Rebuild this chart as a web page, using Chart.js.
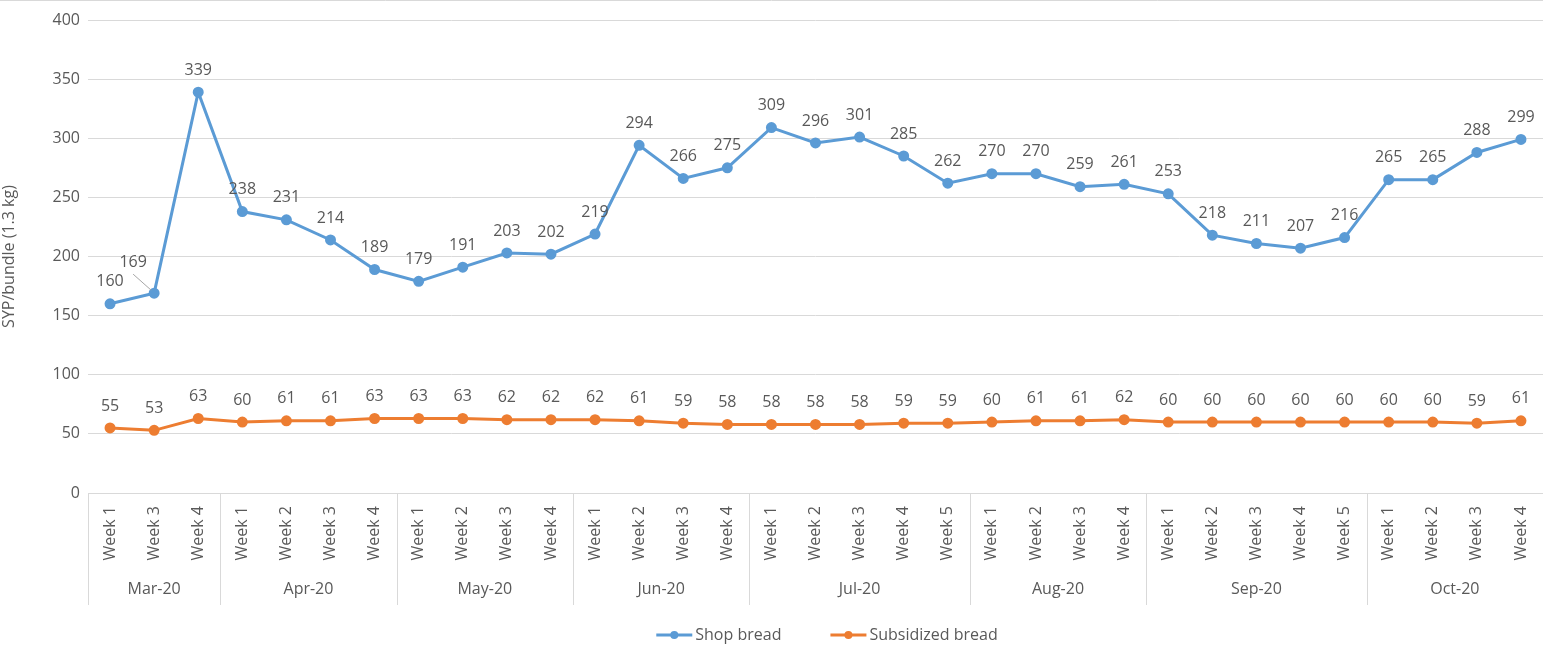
<!DOCTYPE html>
<html>
<head>
  <title>Shop bread vs subsidized bread</title>
  <style>
    body { margin: 0; padding: 0; background: #fff; }
    #wrap { width: 1543px; height: 652px; }
  </style>
</head>
<body>
<div id="wrap"><canvas id="myChart"></canvas></div>

<script src="https://cdn.jsdelivr.net/npm/chart.js"></script>
<script>
  const weeks = [
    'Week 1', 'Week 3', 'Week 4',
    'Week 1', 'Week 2', 'Week 3', 'Week 4',
    'Week 1', 'Week 2', 'Week 3', 'Week 4',
    'Week 1', 'Week 2', 'Week 3', 'Week 4',
    'Week 1', 'Week 2', 'Week 3', 'Week 4', 'Week 5',
    'Week 1', 'Week 2', 'Week 3', 'Week 4',
    'Week 1', 'Week 2', 'Week 3', 'Week 4', 'Week 5',
    'Week 1', 'Week 2', 'Week 3', 'Week 4'
  ];
  const months = ['Mar-20', 'Apr-20', 'May-20', 'Jun-20', 'Jul-20', 'Aug-20', 'Sep-20', 'Oct-20'];
  const monthSizes = [3, 4, 4, 4, 5, 4, 5, 4];

  const shopBread = [160, 169, 339, 238, 231, 214, 189, 179, 191, 203, 202, 219, 294, 266, 275,
    309, 296, 301, 285, 262, 270, 270, 259, 261, 253, 218, 211, 207, 216, 265, 265, 288, 299];
  const subsidizedBread = [55, 53, 63, 60, 61, 61, 63, 63, 63, 62, 62, 62, 61, 59, 58,
    58, 58, 58, 59, 59, 60, 61, 61, 62, 60, 60, 60, 60, 60, 60, 60, 59, 61];

  const textColor = '#595959';
  const lineGray = '#d9d9d9';
  const font = '"Open Sans", sans-serif';

  // value labels above the points (the 169 label was dragged aside in the original)
  const valueLabels = {
    id: 'valueLabels',
    afterDatasetsDraw(chart) {
      const ctx = chart.ctx;
      ctx.save();
      ctx.font = '16px ' + font;
      ctx.fillStyle = textColor;
      ctx.textAlign = 'center';
      ctx.textBaseline = 'middle';
      chart.data.datasets.forEach((ds, di) => {
        chart.getDatasetMeta(di).data.forEach((pt, i) => {
          let lx = pt.x, ly = pt.y - 22;
          if (di === 0 && i === 1) {
            lx = pt.x - 21; ly = pt.y - 31;
            ctx.strokeStyle = '#a6a6a6';
            ctx.lineWidth = 1;
            ctx.beginPath();
            ctx.moveTo(lx, ly + 12);
            ctx.lineTo(pt.x - 3, pt.y - 3);
            ctx.stroke();
          }
          ctx.fillText(ds.data[i], lx, ly);
        });
      });
      ctx.restore();
    }
  };

  // month row and separators under the week labels, plus legend
  const groupAxis = {
    id: 'groupAxis',
    afterDraw(chart) {
      const ctx = chart.ctx;
      const x = chart.scales.x;
      const top = x.top, bottom = x.bottom;
      const half = (x.getPixelForValue(1) - x.getPixelForValue(0)) / 2;
      ctx.save();
      ctx.strokeStyle = lineGray;
      ctx.lineWidth = 1;
      ctx.beginPath();
      ctx.moveTo(0, 0.5);
      ctx.lineTo(chart.width, 0.5);
      ctx.stroke();

      ctx.font = '16px ' + font;
      ctx.fillStyle = textColor;
      ctx.textAlign = 'center';
      ctx.textBaseline = 'middle';
      let start = 0;
      months.forEach((m, k) => {
        const x0 = x.getPixelForValue(start) - half;
        const x1 = x.getPixelForValue(start + monthSizes[k] - 1) + half;
        ctx.beginPath();
        ctx.moveTo(Math.round(x0) + 0.5, top);
        ctx.lineTo(Math.round(x0) + 0.5, bottom);
        ctx.stroke();
        ctx.fillText(m, (x0 + x1) / 2, bottom - 16);
        start += monthSizes[k];
      });

      // legend
      const items = chart.data.datasets.map(ds => {
        return { label: ds.label, color: ds.borderColor, w: 40 + ctx.measureText(ds.label).width };
      });
      const gap = 48;
      const total = items.reduce((s, it) => s + it.w, 0) + gap * (items.length - 1);
      let lx = (chart.width + 112) / 2 - total / 2;
      const ly = 635;
      ctx.textAlign = 'left';
      items.forEach(it => {
        ctx.strokeStyle = it.color;
        ctx.lineWidth = 3;
        ctx.beginPath();
        ctx.moveTo(lx, ly);
        ctx.lineTo(lx + 36, ly);
        ctx.stroke();
        ctx.fillStyle = it.color;
        ctx.beginPath();
        ctx.arc(lx + 18, ly, 4, 0, Math.PI * 2);
        ctx.fill();
        ctx.fillStyle = textColor;
        ctx.fillText(it.label, lx + 39, ly);
        lx += it.w + gap;
      });
      ctx.restore();
    }
  };

  const ctx = document.getElementById('myChart').getContext('2d');
  const myChart = new Chart(ctx, {
    type: 'line',
    data: {
      labels: weeks,
      datasets: [{
        label: 'Shop bread',
        data: shopBread,
        borderColor: '#5b9bd5',
        backgroundColor: '#5b9bd5',
        borderWidth: 3,
        pointRadius: 4,
        pointHoverRadius: 4,
        tension: 0
      }, {
        label: 'Subsidized bread',
        data: subsidizedBread,
        borderColor: '#ed7d31',
        backgroundColor: '#ed7d31',
        borderWidth: 3,
        pointRadius: 4,
        pointHoverRadius: 4,
        tension: 0
      }]
    },
    options: {
      responsive: true,
      maintainAspectRatio: false,
      animation: false,
      layout: { autoPadding: false, padding: { top: 20, right: 0, bottom: 47, left: 0 } },
      plugins: {
        legend: { display: false },
        tooltip: { enabled: false }
      },
      scales: {
        x: {
          offset: true,
          grid: { display: false },
          border: { display: true, color: lineGray },
          ticks: {
            autoSkip: false,
            minRotation: 90,
            maxRotation: 90,
            padding: 5,
            color: textColor,
            font: { family: font, size: 16 }
          },
          afterFit: s => { s.height = 112; s.paddingLeft = 0; s.paddingRight = 0; }
        },
        y: {
          min: 0,
          max: 400,
          grid: { color: lineGray, drawTicks: false },
          border: { display: false },
          ticks: {
            stepSize: 50,
            padding: 8,
            color: textColor,
            font: { family: font, size: 16 }
          },
          title: {
            display: true,
            text: 'SYP/bundle (1.3 kg)',
            color: textColor,
            font: { family: font, size: 16 },
            padding: { top: 0, bottom: 0 }
          },
          afterFit: s => { s.width = 88; }
        }
      }
    },
    plugins: [valueLabels, groupAxis]
  });
</script>
</body>
</html>
